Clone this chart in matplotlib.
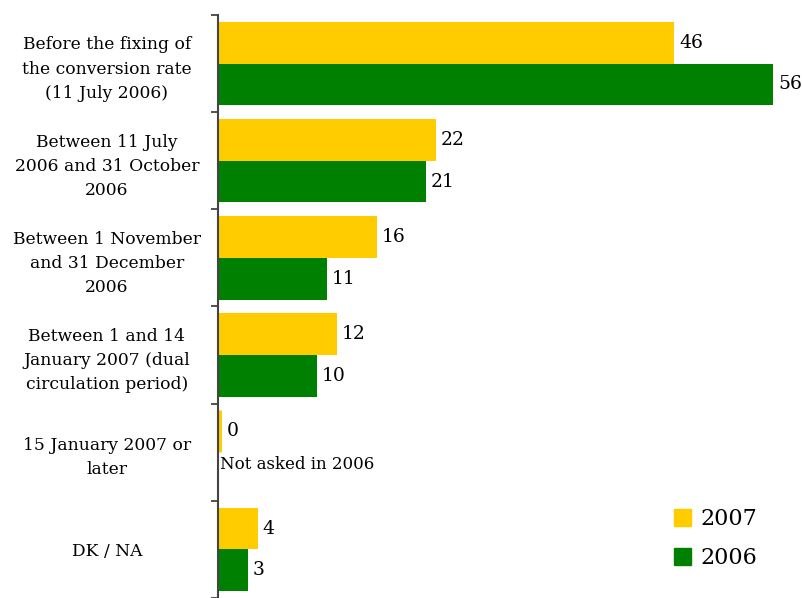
import numpy as np
import matplotlib.pyplot as plt
from matplotlib.patches import Patch

categories = [
    "Before the fixing of\nthe conversion rate\n(11 July 2006)",
    "Between 11 July\n2006 and 31 October\n2006",
    "Between 1 November\nand 31 December\n2006",
    "Between 1 and 14\nJanuary 2007 (dual\ncirculation period)",
    "15 January 2007 or\nlater",
    "DK / NA",
]
values_2007 = [46, 22, 16, 12, 0, 4]
values_2006 = [56, 21, 11, 10, np.nan, 3]

YELLOW = "#FFCC00"
GREEN = "#008000"
plt.rcParams['font.family'] = ['DejaVu Serif']

fig = plt.figure(figsize=(8.03, 5.98), dpi=100)
ax = fig.add_axes([0.2715, 0.0, 0.7285, 0.975])

y = np.arange(len(categories))
h = 0.43
b07 = ax.barh(y - h / 2, values_2007, height=h, color=YELLOW, linewidth=0)
b06 = ax.barh(y + h / 2, values_2006, height=h, color=GREEN, linewidth=0)

# zero bar still shows as a thin sliver
for bar, v in zip(b07, values_2007):
    if v == 0:
        bar.set_edgecolor(YELLOW)
        bar.set_linewidth(5)

for bars, vals in ((b07, values_2007), (b06, values_2006)):
    for bar, v in zip(bars, vals):
        if np.isnan(v):
            continue
        ax.annotate(f"{v:g}", (v, bar.get_y() + bar.get_height() / 2),
                    xytext=(3.5 if v else 6.5, 0), textcoords="offset points",
                    va="center", ha="left", fontsize=13.5)

ax.text(0.2, 4.13, "Not asked in 2006", fontsize=12,
        va="center", ha="left")

ax.set_xlim(0, 59)
ax.set_ylim(5.5, -0.5)
ax.set_yticks(y)
ax.set_yticklabels(categories, fontsize=12.3, linespacing=1.55, ha="center")
ax.tick_params(axis="y", which="major", length=0, pad=80)
ax.set_yticks(np.arange(-0.5, 6.0, 1.0), minor=True)
ax.tick_params(axis="y", which="minor", length=5, width=1.2, color="#333333")
ax.set_xticks([])
for s in ("top", "right", "bottom"):
    ax.spines[s].set_visible(False)
ax.spines["left"].set_color("#444444")
ax.spines["left"].set_linewidth(1.5)

handles = [Patch(color=YELLOW, label="2007"), Patch(color=GREEN, label="2006")]
fig.legend(handles=handles, loc="lower left", bbox_to_anchor=(0.815, 0.015),
           frameon=False, fontsize=16, handlelength=0.75, handleheight=0.8,
           handletextpad=0.4, labelspacing=0.75)

fig.savefig("out.png", dpi=100)
